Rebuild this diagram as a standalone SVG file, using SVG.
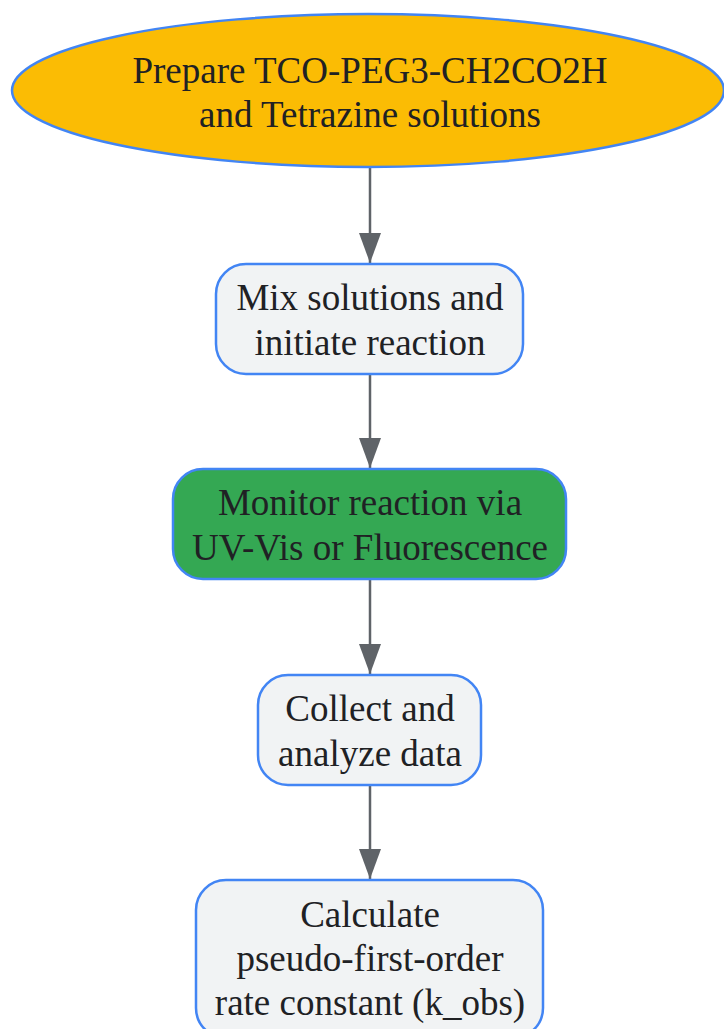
<svg xmlns="http://www.w3.org/2000/svg" width="724" height="1029" viewBox="0 0 724 1029">
<defs>
<marker id="ah" markerUnits="userSpaceOnUse" markerWidth="30" markerHeight="22" refX="30" refY="11" viewBox="0 0 30 22" orient="auto">
<path d="M0,0 L30,11 L0,22 Z" fill="#5f6368"/>
</marker>
<style>
.n{fill:#f1f3f4;stroke:#4285f4;stroke-width:2.5}
.t{font-family:"Liberation Serif","Times New Roman",serif;font-size:37px;fill:#202124;text-anchor:middle}
.e{stroke:#5f6368;stroke-width:2.5;fill:none;marker-end:url(#ah)}
</style>
</defs>
<rect width="724" height="1029" fill="#ffffff"/>
<g id="connectors">
<path class="e" d="M370,168 L370,263"/>
<path class="e" d="M370,374 L370,468"/>
<path class="e" d="M370,580 L370,674"/>
<path class="e" d="M370,785 L370,879"/>
</g>
<g id="prepare">
<ellipse cx="368" cy="90.5" rx="356" ry="76.5" fill="#fbbc04" stroke="#4285f4" stroke-width="2.5"/>
<text class="t" x="370" y="83">Prepare TCO-PEG3-CH2CO2H</text>
<text class="t" x="370" y="127">and Tetrazine solutions</text>
</g>
<g id="mix">
<rect class="n" x="216" y="264" width="307" height="110" rx="30"/>
<text class="t" x="370" y="310">Mix solutions and</text>
<text class="t" x="370" y="355">initiate reaction</text>
</g>
<g id="monitor">
<rect x="173" y="469" width="393" height="110" rx="30" fill="#34a853" stroke="#4285f4" stroke-width="2.5"/>
<text class="t" x="370" y="515">Monitor reaction via</text>
<text class="t" x="370" y="560">UV-Vis or Fluorescence</text>
</g>
<g id="collect">
<rect class="n" x="258" y="675" width="223" height="110" rx="30"/>
<text class="t" x="370" y="721">Collect and</text>
<text class="t" x="370" y="766">analyze data</text>
</g>
<g id="calculate">
<rect class="n" x="196" y="880" width="347" height="158" rx="30"/>
<text class="t" x="370" y="927">Calculate</text>
<text class="t" x="370" y="971">pseudo-first-order</text>
<text class="t" x="370" y="1015">rate constant (k_obs)</text>
</g>
</svg>
